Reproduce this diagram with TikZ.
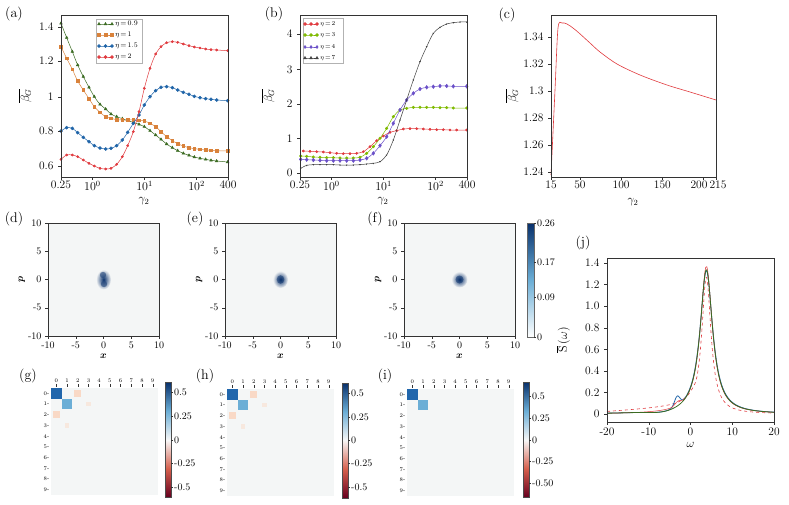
\documentclass[tikz,border=0pt]{standalone}
\usepackage{amsmath,bm}
\usetikzlibrary{plotmarks}
\definecolor{cg}{HTML}{3B6B22}
\definecolor{co}{HTML}{D9823B}
\definecolor{cb}{HTML}{1F64A8}
\definecolor{cr}{HTML}{E03A3E}
\definecolor{cy}{HTML}{7FBA00}
\definecolor{cp}{HTML}{6A4FC8}
\definecolor{ck}{HTML}{404040}
\definecolor{bg}{HTML}{F4F6F6}
\definecolor{db}{HTML}{08306B}
\definecolor{mb}{HTML}{2166AC}
\definecolor{lb}{HTML}{6BAED6}
\definecolor{lo}{HTML}{F9D9C6}
\definecolor{dr}{HTML}{67001F}
\definecolor{rr}{HTML}{D6604D}
\definecolor{wh}{HTML}{F7F7F7}
\newcommand\tk{\fontsize{11.5}{14}\selectfont}
\newcommand\sk{\fontsize{10}{12}\selectfont}
\newcommand\mk{\fontsize{5.5}{6}\selectfont}
\newcommand\lk{\fontsize{14}{16}\selectfont}
\begin{document}
\begin{tikzpicture}[x=1pt,y=-1pt,
  frame/.style={draw=black!80,line width=0.6pt},
  crv/.style={line width=0.5pt,mark size=1.5pt},
  tick/.style={draw=black!80,line width=0.4pt}]
\useasboundingbox (0,0) rectangle (789,504);
% ---------- (a)
\node[font=\lk] (la) at (14,14) {(a)};
\begin{scope}[scale=1/3,every mark/.append style={scale=3}]
\draw[crv,cg,mark=triangle*] plot[smooth] coordinates {(183,70)(200,113)(217,155)(233,195)(250,230)(267,262)(283,290)(300,313)(317,327)(333,342)(350,350)(367,356)(383,362)(400,367)(417,373)(433,380)(450,392)(467,405)(483,418)(500,432)(517,443)(533,452)(550,460)(567,466)(583,471)(600,475)(617,478)(633,481)(650,483)(683,486)};
\draw[crv,co,mark=square*,mark size=1.3pt] plot[smooth] coordinates {(183,140)(200,175)(217,208)(233,243)(250,270)(267,296)(283,320)(300,337)(317,350)(333,355)(350,359)(367,360)(383,360)(400,360)(417,361)(433,363)(450,370)(467,380)(483,395)(500,410)(517,422)(533,431)(550,438)(567,443)(583,446)(600,448)(617,450)(633,451)(650,452)(683,453)};
\draw[crv,cb,mark=*] plot[smooth] coordinates {(183,393)(200,383)(217,385)(233,398)(250,412)(267,425)(283,437)(300,444)(317,447)(333,445)(350,437)(367,420)(383,397)(400,370)(417,345)(433,315)(450,290)(467,272)(483,262)(500,260)(517,263)(533,270)(550,277)(567,283)(583,289)(600,293)(617,296)(633,298)(650,300)(683,302)};
\draw[crv,cr,mark=*,mark size=1.1pt] plot[smooth] coordinates {(183,478)(200,465)(217,465)(233,470)(250,480)(267,490)(283,498)(300,505)(317,507)(333,505)(350,493)(367,470)(383,437)(400,395)(417,335)(433,265)(450,205)(467,162)(483,140)(500,128)(517,125)(533,127)(550,132)(567,137)(583,141)(600,144)(617,147)(633,149)(650,150)(683,152)};
\end{scope}
\draw[frame] (61,15) rectangle (228,177);
\foreach \y/\l in {27/1.4,61/1.2,97/1,131/0.8,166/0.6} {\draw[tick] (61,\y) -- (58,\y); \node[font=\tk,anchor=east] at (57,\y) {\l};}
\foreach \x/\l in {61/0.25,92.4/$10^0$,144.5/$10^1$,196.6/$10^2$,228/400} {\draw[tick] (\x,177) -- (\x,180); \node[font=\tk,anchor=north,inner sep=1pt] at (\x,180) {\l};}
\node[font=\tk,rotate=90] (ya) at (25,96) {$\overline{\beta_G}$};
\node[font=\tk,inner sep=1pt] (xa) at (144,201) {$\gamma_2$};
\draw[draw=black!30,fill=white,line width=0.4pt] (96,19) rectangle (142,63);
\foreach \yy/\c/\m/\t in {24/cg/triangle*/0.9,35/co/square*/1,46/cb/*/1.5,57/cr/*/2} {
 \draw[crv,\c,mark=\m] plot coordinates {(99,\yy)(105.5,\yy)(112,\yy)};
 \node[font=\fontsize{7}{8}\selectfont,anchor=west,inner sep=1pt] at (114,\yy) {$\eta\!=\!\t$};}
% ---------- (b)
\node[font=\lk] (lb) at (274,14) {(b)};
\begin{scope}[shift={(260,0)},scale=1/3,every mark/.append style={scale=3}]
\draw[crv,cr,mark=*,mark size=1.1pt] plot[smooth] coordinates {(130,453)(150,454)(170,455)(190,456)(210,458)(230,460)(250,461)(270,461)(290,460)(310,455)(330,440)(350,422)(370,408)(390,397)(410,392)(430,387)(450,386)(470,386)(490,387)(510,388)(530,389)(550,389)(570,390)(590,390)(620,390)};
\draw[crv,cy,mark=*,mark size=1.3pt] plot[smooth] coordinates {(122,468)(140,469)(160,471)(180,472)(200,473)(220,473)(240,474)(260,474)(280,474)(300,472)(320,460)(340,440)(360,415)(380,385)(400,350)(420,330)(440,325)(460,322)(480,322)(500,322)(520,322)(540,323)(560,323)(580,324)(620,324)};
\draw[crv,cp,mark=diamond*,mark size=1.8pt] plot[smooth] coordinates {(122,478)(140,479)(160,480)(180,481)(200,482)(220,482)(240,482)(260,482)(280,482)(300,480)(320,475)(340,460)(360,437)(380,410)(400,370)(420,330)(440,300)(460,280)(480,267)(500,262)(520,260)(540,258)(560,258)(580,259)(620,259)};
\draw[crv,ck,mark=triangle*,mark options={rotate=180}] plot[smooth] coordinates {(122,505)(140,496)(160,494)(180,494)(200,494)(220,494)(240,495)(260,495)(280,495)(300,494)(320,492)(340,490)(360,485)(380,465)(400,420)(420,360)(440,300)(460,240)(480,185)(500,140)(520,100)(540,82)(560,72)(580,68)(600,66)(620,66)};
\end{scope}
\draw[frame] (300,15) rectangle (467,177);
\foreach \y/\l in {34/4,69.3/3,104/2,138.3/1,173/0} {\draw[tick] (300,\y) -- (297,\y); \node[font=\tk,anchor=east] at (296,\y) {\l};}
\foreach \x/\l in {300/0.25,331.4/$10^0$,383.5/$10^1$,435.6/$10^2$,467/400} {\draw[tick] (\x,177) -- (\x,180); \node[font=\tk,anchor=north,inner sep=1pt] at (\x,180) {\l};}
\node[font=\tk,rotate=90] (yb) at (268,96) {$\overline{\beta_G}$};
\node[font=\tk,inner sep=1pt] (xb) at (383,201) {$\gamma_2$};
\draw[draw=black!30,fill=white,line width=0.4pt] (303,18) rectangle (343,63);
\foreach \yy/\c/\m/\t in {24/cr/*/2,35/cy/*/3,47/cp/diamond*/4,58/ck/triangle*/7} {
 \draw[crv,\c,mark=\m] plot coordinates {(305,\yy)(311,\yy)(317,\yy)};
 \node[font=\fontsize{6.5}{8}\selectfont,anchor=west,inner sep=1pt] at (319,\yy) {$\eta\!=\!\t$};}
% ---------- (c)
\node[font=\lk] (lc) at (507,15) {(c)};
\draw[cr,line width=0.6pt] plot[smooth] coordinates {(551,175)(555,90)(558,28)(562,23)(567,24)(573,28)(579,33)(590,43)(600,52)(617,64)(640,75)(667,85)(690,92)(716,100)};
\draw[frame] (551,15) rectangle (716,177);
\foreach \y/\l in {37/1.34,64/1.32,91/1.3,118/1.28,145/1.26,172/1.24} {\draw[tick] (551,\y) -- (548,\y); \node[font=\tk,anchor=east] at (547,\y) {\l};}
\foreach \x/\l in {551/15,579.9/50,621.1/100,662.4/150,703.6/200,716/215} {\draw[tick] (\x,177) -- (\x,180);}
\foreach \x/\l in {551/15,579.9/50,621.1/100,662.4/150,699/200,718/215} {\node[font=\tk,anchor=north,inner sep=1pt] at (\x,180) {\l};}
\node[font=\tk,rotate=90] (yc) at (512,96) {$\overline{\beta_G}$};
\node[font=\tk,inner sep=1pt] (xc) at (633,202) {$\gamma_2$};
% ---------- (d)(e)(f)
\foreach \X/\L/\LX/\kind in {48/d/14/1,225/e/195/2,404/f/375/3} {
 \node[font=\lk] at (\LX,219) {(\L)};
 \fill[bg] (\X,223) rectangle ++(111,113);
 \pgfmathsetmacro\cx{\X+55.5}
 \ifnum\kind=1
  \shade[inner color=db,outer color=bg] (\cx,279.5) ellipse (7.5 and 10);
  \fill[db!90,opacity=0.6] (\cx-0.5,275) ellipse (3.2 and 3.2);
  \fill[db!90,opacity=0.6] (\cx+0.5,284) ellipse (3.2 and 3.2);
 \fi
 \ifnum\kind=2
  \shade[inner color=db,outer color=bg] (\cx,279.5) ellipse (7.5 and 8.5);
  \fill[db,opacity=0.5] (\cx,279.5) ellipse (3.8 and 4.3);
 \fi
 \ifnum\kind=3
  \shade[inner color=db,outer color=bg] (\cx,279.5) circle (8);
  \fill[db,opacity=0.5] (\cx,279.5) circle (4);
 \fi
 \draw[frame] (\X,223) rectangle ++(111,113);
 \foreach \i/\l in {0/10,1/5,2/0,3/-5,4/-10} {\draw[tick] (\X,223+28.25*\i) -- ++(-3,0); \node[font=\sk,anchor=east] at (\X-3,223+28.25*\i) {\l};}
 \foreach \i/\l in {0/-10,1/-5,2/0,3/5,4/10} {\draw[tick] (\X+27.75*\i,336) -- ++(0,3); \node[font=\sk,anchor=north] at (\X+27.75*\i,338) {\l};}
 \node[font=\sk,rotate=90] at (\X-26,279.5) {$\bm{p}$};
 \node[font=\sk] at (\X+55.5,356) {$\bm{x}$};
}
\shade[bottom color=white,top color=db,middle color=lb] (527,223) rectangle (534,337);
\draw[draw=black!60,line width=0.4pt] (527,223) rectangle (534,337);
\foreach \y/\l in {223/0.26,262/0.17,297/0.09,337/0} {\draw[tick] (534,\y) -- ++(2,0); \node[font=\sk,anchor=west,inner sep=1pt] at (536,\y) {\l};}
% ---------- (g)(h)(i)
\foreach \X/\Y/\L/\LX/\kind in {51/388/g/28/1,227/389/h/205/2,407/389/i/385/3} {
 \node[font=\lk] at (\LX,376) {(\L)};
 \fill[bg] (\X,\Y) rectangle ++(107,107);
 \fill[mb] (\X,\Y) rectangle ++(10.7,10.7);
 \fill[lb] (\X+10.7,\Y+10.7) rectangle ++(10.7,10.7);
 \ifnum\kind<3
  \fill[lo] (\X+21.4+2,\Y+2) rectangle ++(6.7,6.7);
  \fill[lo] (\X+2,\Y+21.4+2) rectangle ++(6.7,6.7);
  \fill[lo!50!bg] (\X+32.1+3,\Y+10.7+3) rectangle ++(4.7,4.7);
  \fill[lo!50!bg] (\X+10.7+3,\Y+32.1+3) rectangle ++(4.7,4.7);
 \fi
 \foreach \i in {0,...,9} {
  \draw[tick,line width=0.3pt] (\X+5.35+10.7*\i,\Y-4) -- ++(0,2.5);
  \node[font=\mk,anchor=south,inner sep=0.5pt] at (\X+5.35+10.7*\i,\Y-4.5) {\i};
  \node[font=\mk,anchor=east,inner sep=0.5pt] at (\X-1,\Y+5.35+10.7*\i) {\i-};
 }
}
\foreach \X/\Y/\a/\b/\c/\d/\e/\A/\B/\C/\D/\E in {165/382/392/416/440/463/487/0.5/0.25/0/-0.25/-0.5,342/383/393/417/440/463/487/0.5/0.25/0/-0.25/-0.5,523/382/396/418/440/461/483/0.5/0.25/0/-0.25/-0.50} {
 \shade[top color=db,bottom color=wh,middle color=lb] (\X,\Y) rectangle (\X+6,440);
 \shade[top color=wh,bottom color=dr,middle color=rr] (\X,440) rectangle (\X+6,\Y+115);
 \draw[draw=black!70,line width=0.4pt] (\X,\Y) rectangle (\X+6,\Y+115);
 \foreach \y/\l in {\a/\A,\b/\B,\c/\C,\d/\D,\e/\E} {\draw[tick] (\X+6,\y) -- ++(2,0); \node[font=\sk,anchor=west,inner sep=1pt] at (\X+8,\y) {\l};}
}
% ---------- (j)
\node[font=\lk] (lj) at (583,243) {(j)};
\begin{scope}[shift={(690.5,414)},xscale=4.175,yscale=-107.9]
\draw[cr,line width=0.6pt,dashed] plot[domain=-20:20,samples=160,smooth] (\x,{1.27/(1+((\x-3.8)/1.35)^2)+(0.02+0.05*(\x+20)/20)/(1+exp(min(3*(\x-1),8)))});
\draw[cb,line width=0.8pt] plot[domain=-20:20,samples=160,smooth] (\x,{1.33/(1+((\x-3.8)/1.85)^2)*(1-0.5*exp(max(-((\x+8)/4)^2,-8)))+0.09*exp(max(-((\x+3.2)/0.9)^2,-8))});
\draw[cr,line width=0.5pt] plot[domain=-20:20,samples=160,smooth] (\x,{1.37/(1+((\x-3.8)/1.75)^2)+0.035*exp(max(-((\x+3)/1)^2,-8))});
\draw[cg,line width=0.8pt] plot[domain=-20:20,samples=160,smooth] (\x,{1.34/(1+((\x-3.8)/1.8)^2)*(1-0.5*exp(max(-((\x+8)/4)^2,-8)))});
\end{scope}
\draw[frame] (607,258) rectangle (774,422);
\foreach \yy/\l in {414/0,392.4/0.2,370.8/0.4,349.3/0.6,327.7/0.8,306.1/1.0,284.5/1.2,263/1.4} {\draw[tick] (607,\yy) -- ++(-3,0); \node[font=\tk,anchor=east] at (603,\yy) {\l};}
\foreach \x/\l in {607/-20,648.8/-10,690.5/0,732.3/10,774/20} {\draw[tick] (\x,422) -- ++(0,3); \node[font=\tk,anchor=north] at (\x,424) {\l};}
\node[font=\tk] (xj) at (690.5,445) {$\omega$};
\node[font=\tk,rotate=90] (yj) at (563,340) {$\overline{\mathrm{S}}\,(\omega)$};
\end{tikzpicture}
\end{document}
